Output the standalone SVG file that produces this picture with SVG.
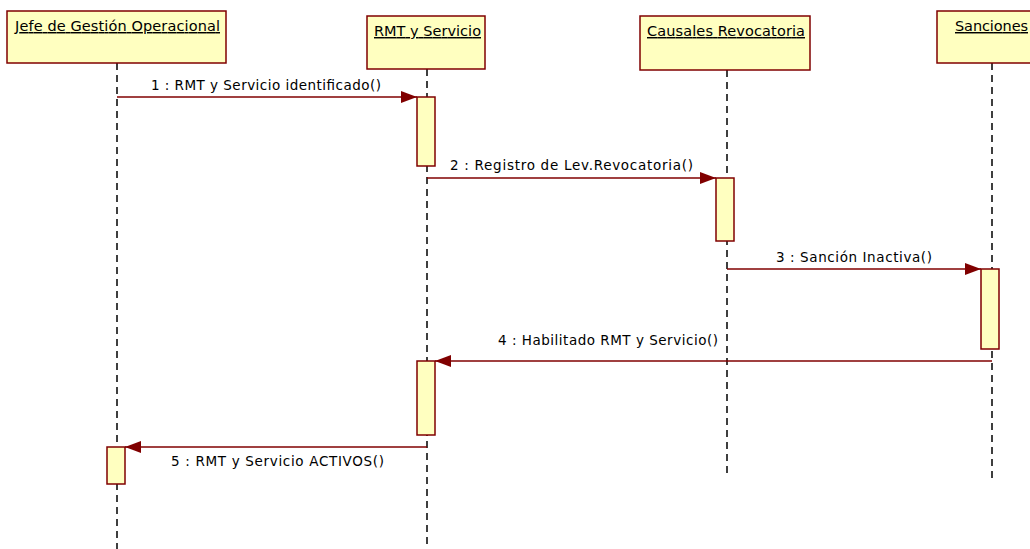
<svg xmlns="http://www.w3.org/2000/svg" width="1030" height="549" viewBox="0 0 1030 549">
<defs>
<style>
.box{fill:#ffffc0;stroke:#800000;stroke-width:1.5}
.act{fill:#ffffc0;stroke:#800000;stroke-width:1.5}
.life{stroke:#000;stroke-width:1.5;stroke-dasharray:7 5;fill:none}
.msg{stroke:#800000;stroke-width:1.3;fill:none;marker-end:url(#ah)}
.hdr{font-family:"DejaVu Sans",Verdana,sans-serif;font-size:14.5px;fill:#000;text-decoration:underline}
.lbl{font-family:"DejaVu Sans",Verdana,sans-serif;font-size:13.5px;fill:#000}
</style>
<marker id="ah" markerWidth="16" markerHeight="12" refX="16" refY="6" orient="auto" markerUnits="userSpaceOnUse">
<path d="M0,0 L16,6 L0,12 Z" fill="#800000"/>
</marker>
</defs>
<rect width="1030" height="549" fill="#fff"/>
<g id="jefe">
<line class="life" x1="117" y1="63" x2="117" y2="549"/>
<rect class="box" x="7" y="11" width="219" height="52"/>
<text class="hdr" x="15" y="31" textLength="205" lengthAdjust="spacing">Jefe de Gestión Operacional</text>
<rect class="act" x="107" y="447" width="18" height="37"/>
</g>
<g id="rmt">
<line class="life" x1="427" y1="69" x2="427" y2="549"/>
<rect class="box" x="367" y="16" width="118" height="53"/>
<text class="hdr" x="374" y="36" textLength="107" lengthAdjust="spacing">RMT y Servicio</text>
<rect class="act" x="417" y="97" width="18" height="69"/>
<rect class="act" x="417" y="361" width="18" height="74"/>
</g>
<g id="causales">
<line class="life" x1="727" y1="70" x2="727" y2="478"/>
<rect class="box" x="640" y="16" width="170" height="54"/>
<text class="hdr" x="647" y="36" textLength="158" lengthAdjust="spacing">Causales Revocatoria</text>
<rect class="act" x="716" y="178" width="18" height="63"/>
</g>
<g id="sanciones">
<line class="life" x1="992" y1="63" x2="992" y2="478"/>
<rect class="box" x="937" y="11" width="112" height="52"/>
<text class="hdr" x="955" y="31" textLength="73" lengthAdjust="spacing">Sanciones</text>
<rect class="act" x="981" y="269" width="18" height="80"/>
</g>
<g id="connectors">
<line class="msg" x1="117" y1="97" x2="417" y2="97"/>
<text class="lbl" x="151" y="90" textLength="230" lengthAdjust="spacing">1 : RMT y Servicio identificado()</text>
<line class="msg" x1="427" y1="178" x2="716" y2="178"/>
<text class="lbl" x="450" y="170" textLength="243" lengthAdjust="spacing">2 : Registro de Lev.Revocatoria()</text>
<line class="msg" x1="727" y1="269" x2="981" y2="269"/>
<text class="lbl" x="776" y="262" textLength="156" lengthAdjust="spacing">3 : Sanción Inactiva()</text>
<line class="msg" x1="992" y1="361" x2="435" y2="361"/>
<text class="lbl" x="498" y="345" textLength="220" lengthAdjust="spacing">4 : Habilitado RMT y Servicio()</text>
<line class="msg" x1="427" y1="447" x2="125" y2="447"/>
<text class="lbl" x="171" y="466" textLength="213" lengthAdjust="spacing">5 : RMT y Servicio ACTIVOS()</text>
</g>
</svg>
